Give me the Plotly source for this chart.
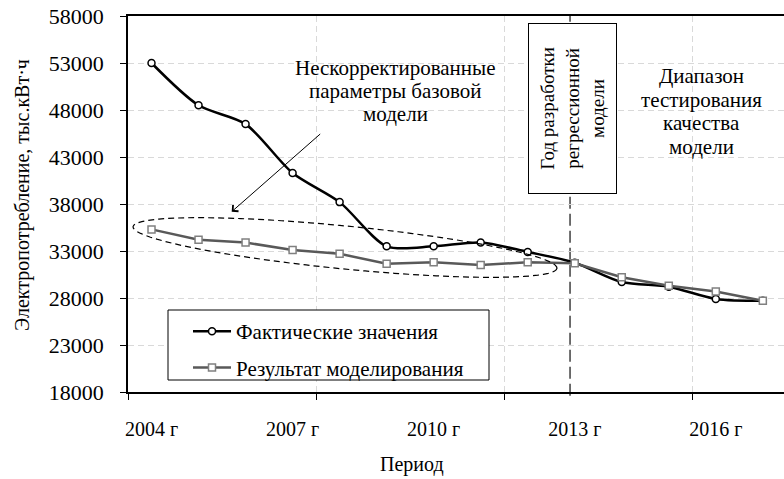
import numpy as np
import plotly.graph_objects as go

# data
years = [2004, 2005, 2006, 2007, 2008, 2009, 2010, 2011, 2012, 2013, 2014, 2015, 2016, 2017]
actual = [53000, 48500, 46500, 41300, 38200, 33500, 33500, 33900, 32900, 31750, 29700, 29200, 27900, 27700]
modeled = [35300, 34200, 33900, 33100, 32700, 31650, 31800, 31500, 31800, 31700, 30200, 29300, 28700, 27700]
label_years = [2004, 2007, 2010, 2013, 2016]
label_text = ["2004 г", "2007 г", "2010 г", "2013 г", "2016 г"]
split_year = 2012.9

note_lines = ["Нескорректированные", "параметры базовой", "модели"]
test_lines = ["Диапазон", "тестирования", "качества", "модели"]

FONT = "Liberation Serif, Times New Roman, serif"

# plot frame (pixels) and axis ranges, used to place the decorations
L, T, W, H = 128, 16, 656, 376
X0, X1 = 2003.5, 2017.45
Y0, Y1 = 18000, 58000


def to_data(px, py):
    return X0 + (px - L) / W * (X1 - X0), Y1 - (py - T) / H * (Y1 - Y0)


def to_paper(px, py):
    return (px - L) / W, (T + H - py) / H


fig = go.Figure()
fig.add_trace(go.Scatter(
    x=years, y=actual, name="Фактические значения", legendgroup="a",
    mode="lines+markers",
    line=dict(color="black", width=2.5, shape="spline", smoothing=0.8),
    marker=dict(symbol="circle", size=7, color="white", line=dict(color="black", width=1.5)),
))
fig.add_trace(go.Scatter(
    x=years, y=modeled, name="Результат моделирования", legendgroup="m",
    mode="lines+markers",
    line=dict(color="#595959", width=2.5),
    marker=dict(symbol="square", size=7, color="white", line=dict(color="#808080", width=1.5)),
))

# dashed ellipse round the uncorrected part
cx, cy, a, b, phi = 345, 247.5, 213, 21.5, np.radians(5.6)
t = np.linspace(0, 2 * np.pi, 91)
ex = cx + a * np.cos(t) * np.cos(phi) - b * np.sin(t) * np.sin(phi)
ey = cy + a * np.cos(t) * np.sin(phi) + b * np.sin(t) * np.cos(phi)
pts = [to_data(x, y) for x, y in zip(ex, ey)]
path = "M " + " L ".join(f"{x:.4f},{y:.1f}" for x, y in pts) + " Z"
fig.add_shape(type="path", path=path, xref="x", yref="y",
              line=dict(color="black", width=1.2, dash="6px,4px"), layer="above")

# year the regression model was built
fig.add_shape(type="line", x0=split_year, x1=split_year, y0=-0.01, y1=1,
              xref="x", yref="paper", layer="between",
              line=dict(color="#404040", width=1.5, dash="12px,5px"))

# legend frame
lx0, ly0 = to_paper(168, 380)
lx1, ly1 = to_paper(489, 310)
fig.add_shape(type="rect", x0=lx0, x1=lx1, y0=ly0, y1=ly1, xref="paper", yref="paper",
              fillcolor="white", line=dict(color="black", width=1), layer="above")

bx, by = to_data(572.5, 108.5)
fig.add_annotation(x=bx, y=by, xref="x", yref="y", showarrow=False, textangle=-90,
                   text="Год разработки<br>регрессионной<br>модели",
                   font=dict(family=FONT, size=19, color="black"),
                   bgcolor="white", bordercolor="black", borderwidth=1, borderpad=3,
                   width=163, height=81)

for i, line in enumerate(note_lines):
    nx, ny = to_data(395, 68 + 23 * i)
    fig.add_annotation(x=nx, y=ny, xref="x", yref="y", showarrow=False, text=line,
                       xanchor="center", yanchor="middle",
                       font=dict(family=FONT, size=21, color="black"))

for i, line in enumerate(test_lines):
    dx, dy = to_data(701, 76 + 23.6 * i)
    fig.add_annotation(x=dx, y=dy, xref="x", yref="y", showarrow=False, text=line,
                       xanchor="center", yanchor="middle",
                       font=dict(family=FONT, size=21, color="black"))

hx, hy = to_data(231.7, 211.7)
fig.add_annotation(x=hx, y=hy, xref="x", yref="y", text="", showarrow=True,
                   ax=90, ay=-79, arrowhead=4, arrowsize=1.6, arrowwidth=1, arrowcolor="black")

yx, yy = to_paper(22, 195)
fig.add_annotation(x=yx, y=yy, xref="paper", yref="paper", showarrow=False,
                   xanchor="center", yanchor="middle",
                   textangle=-90, text="Электропотребление, тыс.кВт·ч",
                   font=dict(family=FONT, size=20, color="black"))
px_, py_ = to_paper(412, 464)
fig.add_annotation(x=px_, y=py_, xref="paper", yref="paper", showarrow=False,
                   xanchor="center", yanchor="middle",
                   text="Период", font=dict(family=FONT, size=20, color="black"))

gx, gy = to_paper(188, 311)
fig.update_layout(
    width=784, height=479,
    margin=dict(l=L, r=0, t=T, b=479 - T - H),
    plot_bgcolor="white", paper_bgcolor="white",
    font=dict(family=FONT, size=20, color="black"),
    showlegend=True,
    legend=dict(x=gx, y=gy, xanchor="left", yanchor="top",
                bgcolor="rgba(0,0,0,0)", borderwidth=0, itemwidth=38,
                tracegroupgap=6, font=dict(family=FONT, size=21, color="black")),
    xaxis=dict(range=[X0, X1], tickmode="array", tickvals=label_years, ticktext=label_text,
               ticks="", showgrid=False, zeroline=False, ticklabelstandoff=18,
               tickfont=dict(size=20),
               showline=True, linecolor="black", linewidth=1.5, mirror=True,
               minor=dict(tick0=X0, dtick=4, ticks="outside", ticklen=6, tickcolor="black",
                          showgrid=True, gridcolor="#d9d9d9", griddash="6px,4px", gridwidth=1)),
    yaxis=dict(range=[Y0, Y1], tick0=Y0, dtick=5000, tickformat="d",
               ticks="outside", ticklen=6, tickcolor="black", ticklabelstandoff=12,
               tickfont=dict(size=22),
               showgrid=True, gridcolor="#d9d9d9", griddash="6px,4px", gridwidth=1,
               zeroline=False, showline=True, linecolor="black", linewidth=1.5),
)

fig.write_html("out.html", config={"displayModeBar": False},
               post_script="document.body.style.margin = '0';")
